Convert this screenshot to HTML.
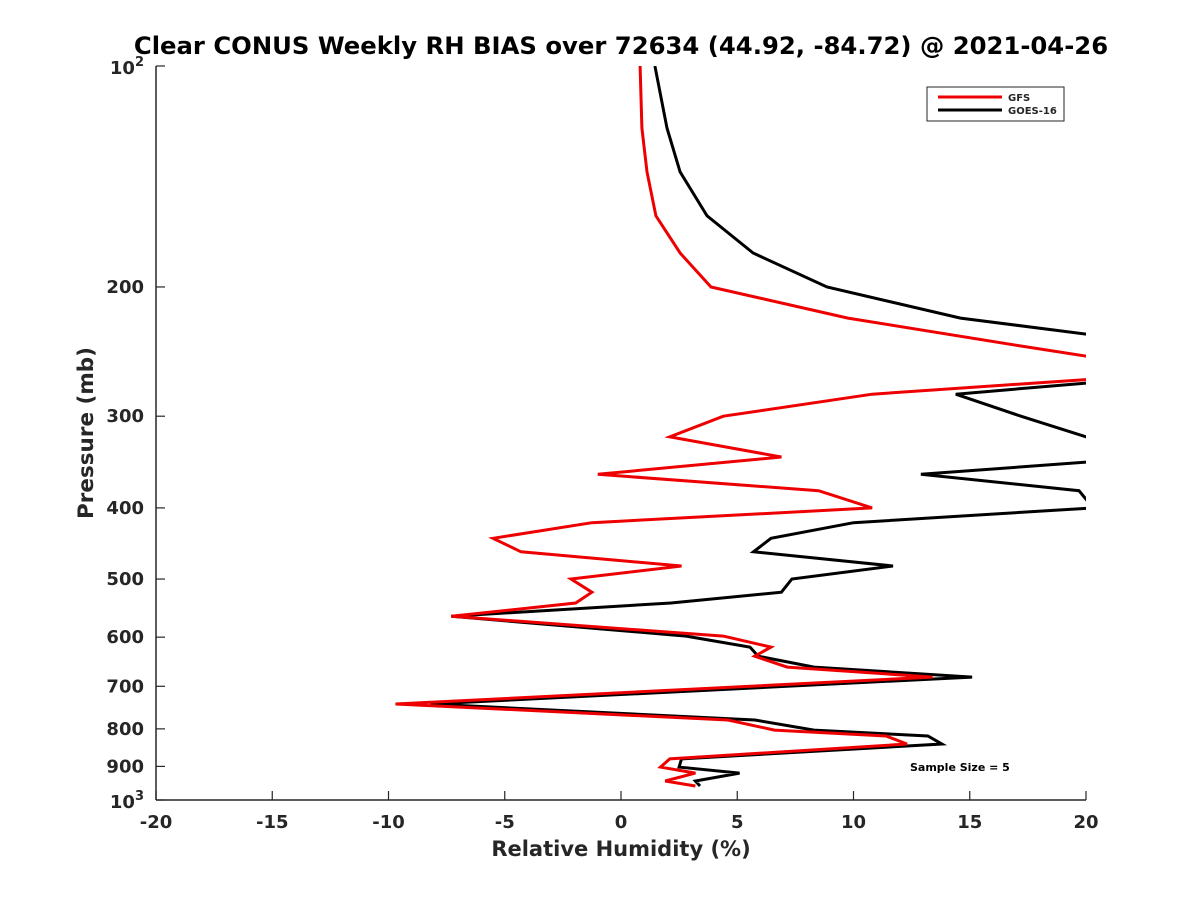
<!DOCTYPE html>
<html><head><meta charset="utf-8"><style>
body{margin:0;background:#fff;}
svg text{font-family:"DejaVu Sans","Liberation Sans",sans-serif;font-weight:bold;fill:#262626;}
</style></head><body>
<svg id="chart" width="1200" height="900">
<defs><clipPath id="clip"><rect x="156" y="66" width="930" height="734"/></clipPath></defs>
<text x="621" y="54" font-size="24.3" text-anchor="middle" style="fill:#000">Clear CONUS Weekly RH BIAS over 72634 (44.92, -84.72) @ 2021-04-26</text>
<g id="axes"></g>
<g id="series" clip-path="url(#clip)"></g>
<g>
<rect x="927" y="87" width="137" height="34" fill="#fff" stroke="#262626" stroke-width="1"/>
<line x1="938" y1="97" x2="1002" y2="97" stroke="#e00" stroke-width="3"/>
<text x="1008" y="101" font-size="10">GFS</text>
<line x1="938" y1="110" x2="1002" y2="110" stroke="#000" stroke-width="3"/>
<text x="1008" y="114" font-size="10">GOES-16</text>
</g>
<text x="910" y="771" font-size="11" style="fill:#000">Sample Size = 5</text>
<text x="621" y="856" font-size="21" text-anchor="middle">Relative Humidity (%)</text>
<text transform="translate(93,433) rotate(-90)" font-size="21.5" text-anchor="middle">Pressure (mb)</text>
</svg>
<script>
const pressures=[100,121.5,139.4,160,179.8,200,220.5,240.7,260,267,280,300,320,341,360,379,400,419,440,459,480,500,521,539,562,598,619,637,659,680,740,778,803,818,839,879,902,919,942,957];
const gfsValues=[0.82,0.9,1.12,1.5,2.54,3.87,9.76,17.2,24,20.3,10.8,4.4,2.1,6.9,-1.0,8.5,10.8,-1.25,-5.5,-4.3,2.6,-2.15,-1.25,-1.95,-7.3,4.4,6.45,5.75,7.15,13.4,-9.7,4.6,6.6,11.4,12.3,2.1,1.7,3.2,1.9,3.2];
const goesValues=[1.46,1.98,2.54,3.7,5.68,8.86,14.6,24,24,22,14.4,17.2,20,23,12.9,19.7,20.3,10,6.45,5.7,11.7,7.35,6.9,2.15,-7.3,2.8,5.55,5.9,8.3,15.1,-8.2,5.76,8.3,13.2,13.8,2.6,2.5,5.1,3.2,3.4];
const xTicks=[-20,-15,-10,-5,0,5,10,15,20];
const yTicks=[200,300,400,500,600,700,800,900];
const L=156,R=1086,T=66,B=800,NS="http://www.w3.org/2000/svg";
const xs=v=>L+(v+20)/40*(R-L);
const ys=p=>T+(Math.log10(p)-2)*(B-T);
const axes=document.getElementById('axes'),ser=document.getElementById('series');
function mk(tag,attrs,parent){const e=document.createElementNS(NS,tag);for(const k in attrs)e.setAttribute(k,attrs[k]);parent.appendChild(e);return e;}
const xa=mk('line',{x1:L,y1:B,x2:R,y2:B,stroke:'#262626','stroke-width':1.5},axes);


const ya=mk('line',{x1:L,y1:T,x2:L,y2:B,stroke:'#262626','stroke-width':1.5},axes);


xTicks.forEach(v=>{
 const t=mk('line',{x1:xs(v),y1:B,x2:xs(v),y2:B-9,stroke:'#262626','stroke-width':1.2},axes);
 
 
 const l=mk('text',{x:xs(v),y:B+28,'font-size':18,'text-anchor':'middle'},axes);l.textContent=v;
 
 
});
yTicks.concat([100,1000]).forEach(p=>{
 const t=mk('line',{x1:L,y1:ys(p),x2:L+9,y2:ys(p),stroke:'#262626','stroke-width':1.2},axes);
 
 
});
yTicks.forEach(p=>{
 const l=mk('text',{x:L-12,y:ys(p)+6,'font-size':18,'text-anchor':'end'},axes);l.textContent=p;
 
 
});
[[100,'2'],[1000,'3']].forEach(([p,e])=>{
 const l=mk('text',{x:L-12,y:ys(p)+8,'font-size':18,'text-anchor':'end'},axes);
 l.innerHTML='10<tspan dy="-8" font-size="13">'+e+'</tspan>';
 
 
});
function line(vals,color,name){
 const d=vals.map((v,i)=>(i?'L':'M')+xs(v).toFixed(1)+','+ys(pressures[i]).toFixed(1)).join('');
 const p=mk('path',{d:d,fill:'none',stroke:color,'stroke-width':3,'stroke-linejoin':'miter'},ser);
 
 
}
line(goesValues,'#000','goes16-line');
line(gfsValues,'#e00','gfs-line');
</script>
</body></html>
